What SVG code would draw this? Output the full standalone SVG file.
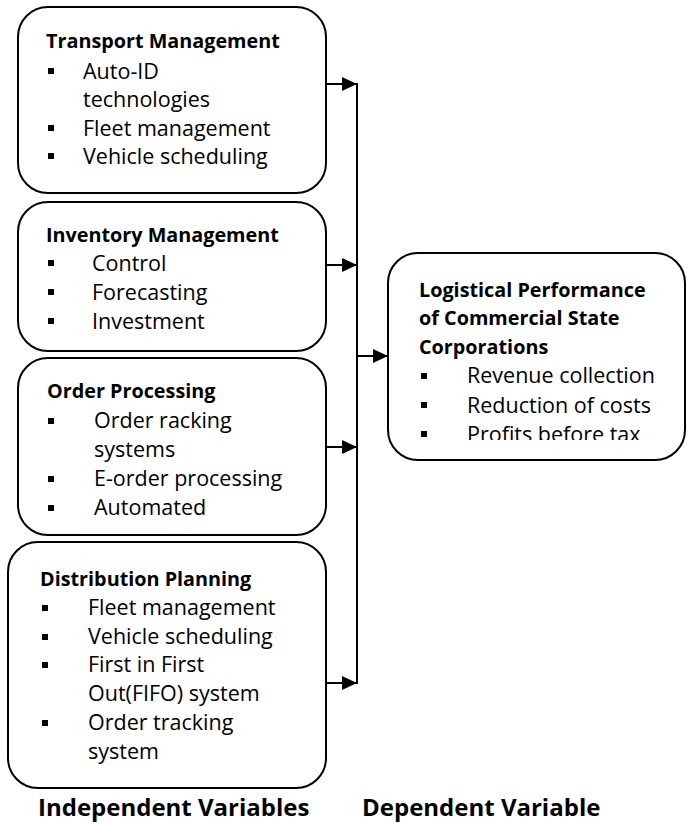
<svg xmlns="http://www.w3.org/2000/svg" width="688" height="823" viewBox="0 0 688 823">
<style>
.box{fill:#fff;stroke:#000;stroke-width:2}
.t{font-family:"Open Sans","Liberation Sans",sans-serif;font-size:21.5px;fill:#000}
.b{font-weight:bold;font-size:19.8px}
.big{font-family:"Open Sans","Liberation Sans",sans-serif;font-size:24px;font-weight:bold;fill:#000}
.bul{fill:#000}
.c{fill:none;stroke:#000;stroke-width:2}
</style>
<defs>
<marker id="ah" markerUnits="userSpaceOnUse" markerWidth="16" markerHeight="16" viewBox="0 0 16 16" refX="15" refY="8" orient="auto">
<path d="M0,1 L15,8 L0,15 Z" fill="#000"/>
</marker>
<clipPath id="clipR"><rect x="388" y="253" width="300" height="187"/></clipPath>
</defs>
<g id="transport">
<rect class="box" x="18" y="7" width="308" height="186" rx="30"/>
<text class="t b" x="46" y="48">Transport Management</text>
<rect class="bul" x="48" y="68" width="6" height="6"/>
<text class="t" x="83" y="79">Auto-ID</text>
<text class="t" x="83" y="107">technologies</text>
<rect class="bul" x="48" y="125" width="6" height="6"/>
<text class="t" x="83" y="136">Fleet management</text>
<rect class="bul" x="48" y="153" width="6" height="6"/>
<text class="t" x="83" y="164">Vehicle scheduling</text>
</g>
<g id="inventory">
<rect class="box" x="18" y="202" width="308" height="149" rx="30"/>
<text class="t b" x="46" y="242">Inventory Management</text>
<rect class="bul" x="48" y="260" width="6" height="6"/>
<text class="t" x="92" y="271">Control</text>
<rect class="bul" x="48" y="289" width="6" height="6"/>
<text class="t" x="92" y="300">Forecasting</text>
<rect class="bul" x="48" y="318" width="6" height="6"/>
<text class="t" x="92" y="329">Investment</text>
</g>
<g id="order">
<rect class="box" x="18" y="358" width="308" height="177" rx="30"/>
<text class="t b" x="47" y="398">Order Processing</text>
<rect class="bul" x="48" y="418" width="6" height="6"/>
<text class="t" x="94" y="428">Order racking</text>
<text class="t" x="94" y="457">systems</text>
<rect class="bul" x="48" y="476" width="6" height="6"/>
<text class="t" x="94" y="486">E-order processing</text>
<rect class="bul" x="48" y="505" width="6" height="6"/>
<text class="t" x="94" y="515">Automated</text>
</g>
<g id="distribution">
<rect class="box" x="8" y="542" width="318" height="246" rx="30"/>
<text class="t b" x="40" y="586">Distribution Planning</text>
<rect class="bul" x="42" y="605" width="6" height="6"/>
<text class="t" x="88" y="615">Fleet management</text>
<rect class="bul" x="42" y="634" width="6" height="6"/>
<text class="t" x="88" y="644">Vehicle scheduling</text>
<rect class="bul" x="42" y="662" width="6" height="6"/>
<text class="t" x="88" y="672">First in First</text>
<text class="t" x="88" y="701">Out(FIFO) system</text>
<rect class="bul" x="42" y="720" width="6" height="6"/>
<text class="t" x="88" y="730">Order tracking</text>
<text class="t" x="88" y="759">system</text>
</g>
<g id="performance">
<rect class="box" x="388" y="253" width="297" height="207" rx="30"/>
<text class="t b" x="419" y="297">Logistical Performance</text>
<text class="t b" x="419" y="325">of Commercial State</text>
<text class="t b" x="419" y="354">Corporations</text>
<rect class="bul" x="421" y="373" width="6" height="6"/>
<text class="t" x="467" y="383">Revenue collection</text>
<rect class="bul" x="421" y="402" width="6" height="6"/>
<text class="t" x="467" y="413">Reduction of costs</text>
<g clip-path="url(#clipR)">
<rect class="bul" x="421" y="431" width="6" height="6"/>
<text class="t" x="467" y="442">Profits before tax</text>
</g>
</g>
<g id="connectors">
<line class="c" x1="326" y1="84" x2="357" y2="84" marker-end="url(#ah)"/>
<line class="c" x1="326" y1="265" x2="357" y2="265" marker-end="url(#ah)"/>
<line class="c" x1="326" y1="447" x2="357" y2="447" marker-end="url(#ah)"/>
<line class="c" x1="326" y1="683" x2="357" y2="683" marker-end="url(#ah)"/>
<line class="c" x1="357" y1="83" x2="357" y2="684"/>
<line class="c" x1="357" y1="356" x2="388" y2="356" marker-end="url(#ah)"/>
</g>
<g id="labels">
<text class="big" x="38" y="816">Independent Variables</text>
<text class="big" x="362" y="816">Dependent Variable</text>
</g>
</svg>
